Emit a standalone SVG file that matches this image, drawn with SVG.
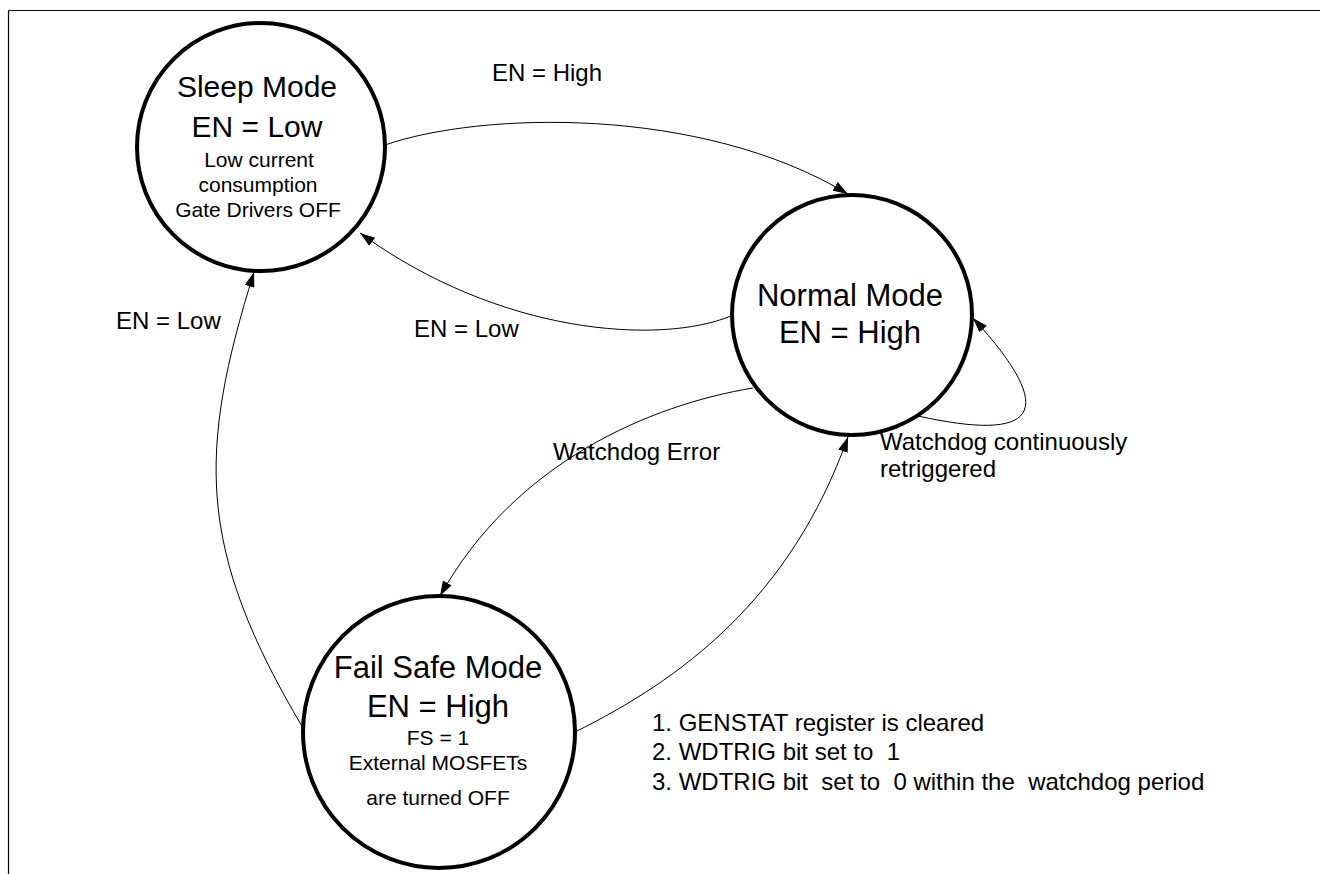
<svg xmlns="http://www.w3.org/2000/svg" width="1320" height="874" viewBox="0 0 1320 874">
  <style>
    .state { fill: #ffffff; stroke: #000000; stroke-width: 4; }
    .big { font-family: "Liberation Sans", Arial, sans-serif; font-size: 31px; fill: #000; text-anchor: middle; }
    .small { font-family: "Liberation Sans", Arial, sans-serif; font-size: 21px; fill: #000; text-anchor: middle; }
    .lbl { font-family: "Liberation Sans", Arial, sans-serif; font-size: 24px; fill: #000; white-space: pre; }
    .edge { fill: none; stroke: #000000; stroke-width: 1; marker-end: url(#arrow); }
    .frame { stroke: #000000; stroke-width: 1.2; fill: none; }
  </style>
  <defs>
    <marker id="arrow" markerUnits="userSpaceOnUse" markerWidth="15" markerHeight="10" refX="15" refY="5" orient="auto">
      <path d="M0,0 L15,5 L0,10 z" fill="#000000"/>
    </marker>
  </defs>
  <rect x="0" y="0" width="1320" height="874" fill="#ffffff"/>
  <g id="frame">
    <line class="frame" x1="8.5" y1="10.5" x2="1320" y2="10.5"/>
    <line class="frame" x1="8.5" y1="10.5" x2="8.5" y2="874"/>
  </g>
  <g id="connectors">
    <path id="sleep-to-normal" class="edge" d="M385,145 C480,112 700,105 848,194"/>
    <path id="normal-to-sleep" class="edge" d="M731,316 C660,345 500,335 360,233"/>
    <path id="failsafe-to-sleep" class="edge" d="M303,728 C196,548 198,452 254,272"/>
    <path id="normal-to-failsafe" class="edge" d="M753,388 C650,405 515,462 440,596"/>
    <path id="failsafe-to-normal" class="edge" d="M575,732 C680,680 790,600 848,437"/>
    <path id="normal-self" class="edge" d="M918,416 C1035,442 1062,415 973,318"/>
  </g>
  <g id="labels">
    <text class="lbl" x="492" y="81">EN = High</text>
    <text class="lbl" x="414" y="337">EN = Low</text>
    <text class="lbl" x="116" y="329">EN = Low</text>
    <text class="lbl" x="553" y="460">Watchdog Error</text>
    <text class="lbl" x="880" y="450">Watchdog continuously</text>
    <text class="lbl" x="880" y="477">retriggered</text>
    <text class="lbl" x="652" y="731">1. GENSTAT register is cleared</text>
    <text class="lbl" x="652" y="760">2. WDTRIG bit set to  1</text>
    <text class="lbl" x="652" y="790">3. WDTRIG bit  set to  0 within the  watchdog period</text>
  </g>
  <g id="sleep-mode">
    <circle class="state" cx="261" cy="147" r="124"/>
    <text class="big" x="257" y="97" style="font-size:30px">Sleep Mode</text>
    <text class="big" x="257" y="137" style="font-size:30px">EN = Low</text>
    <text class="small" x="259" y="167">Low current</text>
    <text class="small" x="258" y="192">consumption</text>
    <text class="small" x="258" y="217">Gate Drivers OFF</text>
  </g>
  <g id="normal-mode">
    <circle class="state" cx="852" cy="315" r="120"/>
    <text class="big" x="850" y="306">Normal Mode</text>
    <text class="big" x="850" y="343">EN = High</text>
  </g>
  <g id="fail-safe-mode">
    <circle class="state" cx="439" cy="732" r="136"/>
    <text class="big" x="438" y="678">Fail Safe Mode</text>
    <text class="big" x="438" y="717">EN = High</text>
    <text class="small" x="438" y="745">FS = 1</text>
    <text class="small" x="438" y="770">External MOSFETs</text>
    <text class="small" x="438" y="805">are turned OFF</text>
  </g>
</svg>
